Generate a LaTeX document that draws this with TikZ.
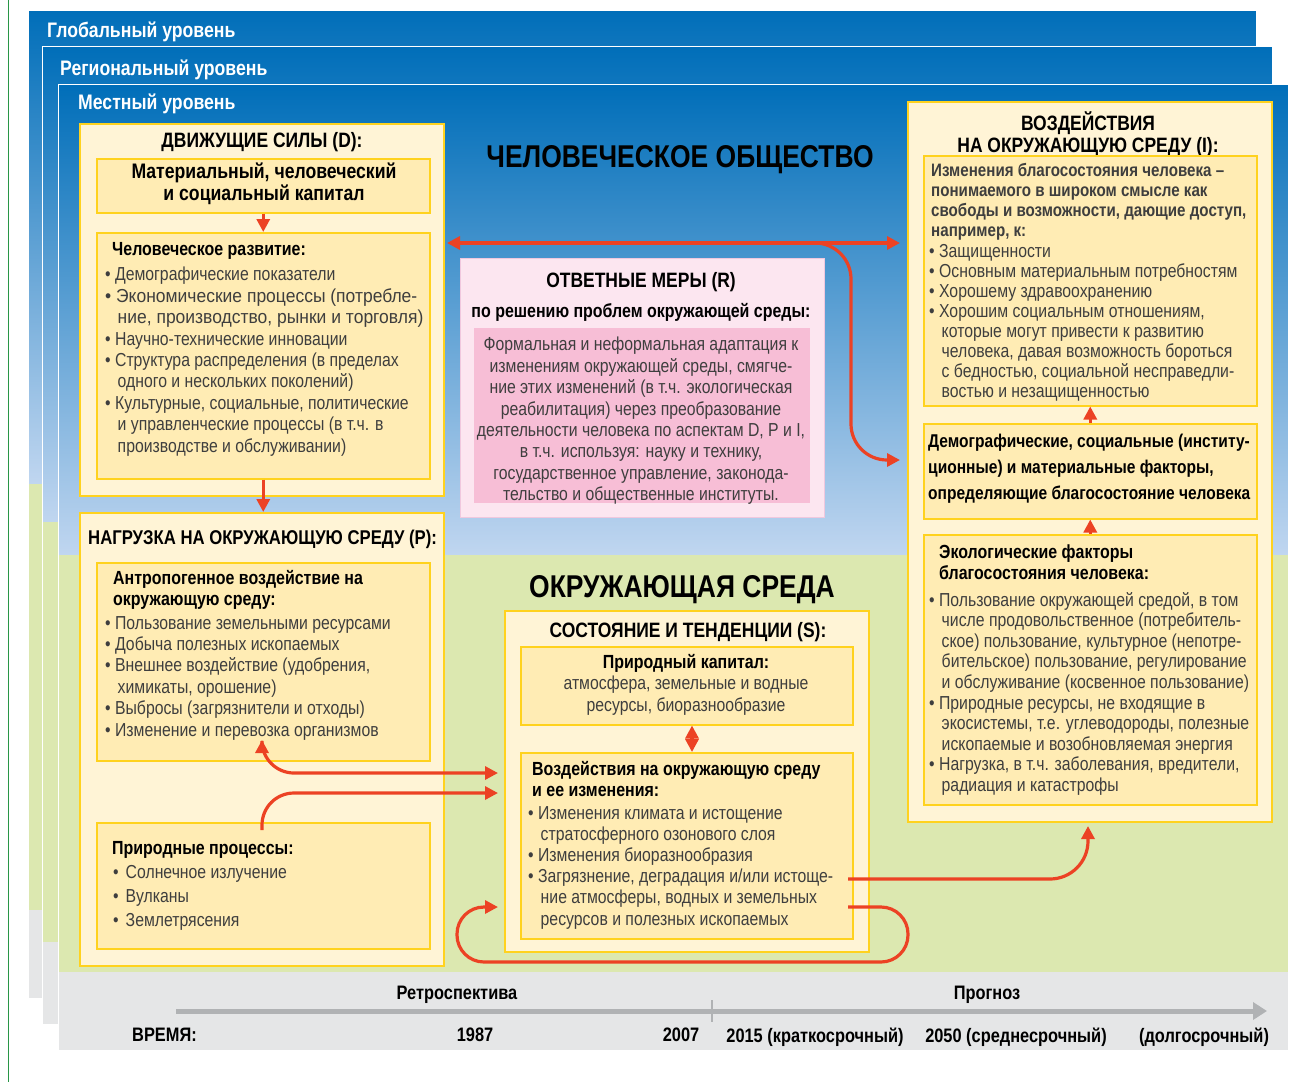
\documentclass[tikz,border=0pt]{standalone}
\usepackage{fontspec}
\usepackage{graphicx}
\setmainfont{Liberation Sans}[FakeStretch=0.84]
\usetikzlibrary{arrows.meta}
\definecolor{dblue}{RGB}{0,110,185}
\definecolor{lblue}{RGB}{192,214,240}
\definecolor{lgreen}{RGB}{220,232,176}
\definecolor{lgray}{RGB}{229,230,231}
\definecolor{cream}{RGB}{255,244,214}
\definecolor{innerc}{RGB}{255,236,180}
\definecolor{ybord}{RGB}{255,210,30}
\definecolor{pinkout}{RGB}{252,230,240}
\definecolor{pinkin}{RGB}{247,190,214}
\definecolor{pinkbord}{RGB}{240,200,222}
\definecolor{ared}{RGB}{236,66,36}
\definecolor{txtgray}{RGB}{62,62,62}
\definecolor{tlgray}{RGB}{176,178,180}
\definecolor{edgegreen}{RGB}{40,150,70}
\tikzset{
  outerbox/.style={draw=ybord, line width=1.5pt, fill=cream, anchor=north west, inner sep=0pt},
  innerbox/.style={draw=ybord, line width=1.5pt, fill=innerc, anchor=north west, inner sep=0pt},
  hd/.style={font=\fontsize{19}{22}\selectfont\bfseries, text=black, inner sep=0pt, align=left, anchor=north west},
  hdc/.style={font=\fontsize{19}{22}\selectfont\bfseries, text=black, inner sep=0pt, align=center, anchor=north},
  capt/.style={font=\fontsize{20.8}{22}\selectfont\bfseries, text=black, inner sep=0pt, align=center, anchor=north},
  bd/.style={font=\fontsize{18.8}{21.4}\selectfont, text=txtgray, inner sep=0pt, align=left, anchor=north west},
  bdc/.style={font=\fontsize{18.8}{21.4}\selectfont, text=txtgray, inner sep=0pt, align=center, anchor=north},
  bigt/.style={font=\fontsize{31.5}{36}\selectfont\bfseries, text=black, inner sep=0pt, anchor=north},
  lvl/.style={font=\fontsize{21}{24}\selectfont\bfseries, text=white, inner sep=0pt, anchor=north west},
  tl/.style={font=\fontsize{19.5}{22}\selectfont\bfseries, text=black, inner sep=0pt, anchor=north},
  redarrow/.style={draw=ared, line width=3.2pt, -{Triangle[length=13pt,width=13pt]}},
  dblarrow/.style={draw=ared, line width=3.2pt, {Triangle[length=13pt,width=13pt]}-{Triangle[length=13pt,width=13pt]}},
}
\newcommand{\ci}{\hspace*{12.5pt}}
\begin{document}
\begin{tikzpicture}[x=1pt,y=-1pt]
\useasboundingbox (0,0) rectangle (1311,1082);
\fill[white] (0,0) rectangle (1311,1082);
\draw[edgegreen, line width=1pt] (8,0) -- (8,1082);
% global panel
\shade[top color=dblue, bottom color=lblue] (28,10) rectangle (1256,484);
\fill[lgreen] (28,484) rectangle (1256,910);
\fill[lgray] (28,910) rectangle (1256,998);
\draw[white, line width=1pt] (28,10) rectangle (1256,998);
\node[lvl] (lglob) at (47,22) {Глобальный уровень};
% regional panel
\shade[top color=dblue, bottom color=lblue] (42,46) rectangle (1272,522);
\fill[lgreen] (42,522) rectangle (1272,942);
\fill[lgray] (42,942) rectangle (1272,1024);
\draw[white, line width=1pt] (42,46) rectangle (1272,1024);
\node[lvl] (lreg) at (60,60) {Региональный уровень};
% local panel
\shade[top color=dblue, bottom color=lblue] (58,84) rectangle (1288,555);
\fill[lgreen] (58,555) rectangle (1288,972);
\fill[lgray] (58,972) rectangle (1288,1050);
\draw[white, line width=1pt] (58,84) rectangle (1288,1050);
\node[lvl] (lloc) at (78,94) {Местный уровень};

% big titles
\node[bigt] (tsoc) at (680,145.3) {ЧЕЛОВЕЧЕСКОЕ ОБЩЕСТВО};
\node[bigt] (tenv) at (682,575.3) {ОКРУЖАЮЩАЯ СРЕДА};

% D box
\node[outerbox, minimum width=364pt, minimum height=372pt] (d) at (79,123) {};
\node[capt] (dt) at (262,132.3) {ДВИЖУЩИЕ СИЛЫ (D):};
\node[innerbox, minimum width=333pt, minimum height=54pt] (d1) at (96,158) {};
\node[hdc, font=\fontsize{21}{22}\selectfont\bfseries] (d1t) at (264,162.2) {Материальный, человеческий\\и социальный капитал};
\node[innerbox, minimum width=333pt, minimum height=246pt] (d2) at (96,232) {};
\node[hd] (d2h) at (112,242) {Человеческое развитие:};
\node[bd] (d2b) at (105,267) {• Демографические показатели\\
\scalebox{1.107}[1]{• Экономические процессы (потребле-}\\
\ci\scalebox{1.107}[1]{ние, производство, рынки и торговля)}\\
• Научно-технические инновации\\
• Структура распределения (в пределах\\
\ci одного и нескольких поколений)\\
• Культурные, социальные, политические\\
\ci и управленческие процессы (в т.ч. в\\
\ci производстве и обслуживании)};

% P box
\node[outerbox, minimum width=364pt, minimum height=453pt] (p) at (79,512) {};
\node[capt, anchor=north west, font=\fontsize{19.9}{22}\selectfont\bfseries] (pt) at (88,529.6) {НАГРУЗКА НА ОКРУЖАЮЩУЮ СРЕДУ (P):};
\node[innerbox, minimum width=333pt, minimum height=198pt] (pa) at (96,562) {};
\node[hd, font=\fontsize{19}{21}\selectfont\bfseries] (pah) at (113,570) {Антропогенное воздействие на\\окружающую среду:};
\node[bd] (pab) at (105,616) {• Пользование земельными ресурсами\\
• Добыча полезных ископаемых\\
• Внешнее воздействие (удобрения,\\
\ci химикаты, орошение)\\
• Выбросы (загрязнители и отходы)\\
• Изменение и перевозка организмов};
\node[innerbox, minimum width=333pt, minimum height=126pt] (pb) at (96,822) {};
\node[hd] (pbh) at (112,841) {Природные процессы:};
\node[bd, font=\fontsize{18.8}{24}\selectfont] (pbb) at (113,865) {•\hspace{7pt}Солнечное излучение\\
•\hspace{7pt}Вулканы\\
•\hspace{7pt}Землетрясения};

% R box
\node[draw=pinkbord, line width=1.2pt, fill=pinkout, anchor=north west, inner sep=0pt, minimum width=364pt, minimum height=259pt] (r) at (460,258) {};
\node[capt] (rt) at (641,272.3) {ОТВЕТНЫЕ МЕРЫ (R)};
\node[hdc] (rt2) at (641,303) {по решению проблем окружающей среды:};
\node[fill=pinkin, anchor=north west, inner sep=0pt, minimum width=336pt, minimum height=175pt] (rin) at (474,328) {};
\node[bdc] (rb) at (641,337) {Формальная и неформальная адаптация к\\
изменениям окружающей среды, смягче-\\
ние этих изменений (в т.ч. экологическая\\
реабилитация) через преобразование\\
деятельности человека по аспектам D, P и I,\\
в т.ч. используя: науку и технику,\\
государственное управление, законода-\\
тельство и общественные институты.};

% S box
\node[outerbox, minimum width=364pt, minimum height=341pt] (s) at (504,610) {};
\node[capt] (st) at (688,622.3) {СОСТОЯНИЕ И ТЕНДЕНЦИИ (S):};
\node[innerbox, minimum width=332pt, minimum height=78pt] (nc) at (520,646) {};
\node[hdc] (nch) at (686,654) {Природный капитал:};
\node[bdc] (ncb) at (686,676) {атмосфера, земельные и водные\\ресурсы, биоразнообразие};
\node[innerbox, minimum width=332pt, minimum height=186pt] (e) at (520,752) {};
\node[hd, font=\fontsize{19}{21}\selectfont\bfseries] (eh) at (532,761) {Воздействия на окружающую среду\\и ее изменения:};
\node[bd, font=\fontsize{18.8}{21.2}\selectfont] (eb) at (528,806) {• Изменения климата и истощение\\
\ci стратосферного озонового слоя\\
• Изменения биоразнообразия\\
• Загрязнение, деградация и/или истоще-\\
\ci ние атмосферы, водных и земельных\\
\ci ресурсов и полезных ископаемых};

% I box
\node[outerbox, minimum width=364pt, minimum height=720pt] (i) at (907,101) {};
\node[capt] (it) at (1088,111.3) {ВОЗДЕЙСТВИЯ\\НА ОКРУЖАЮЩУЮ СРЕДУ (I):};
\node[innerbox, minimum width=333pt, minimum height=250pt] (i1) at (923,155) {};
\node[hd, font=\fontsize{18}{20}\selectfont\bfseries, text=txtgray] (i1h) at (931,163.3) {Изменения благосостояния человека –\\
понимаемого в широком смысле как\\
свободы и возможности, дающие доступ,\\
например, к:};
\node[bd, font=\fontsize{18.8}{20}\selectfont] (i1b) at (929,244) {• Защищенности\\
• Основным материальным потребностям\\
• Хорошему здравоохранению\\
• Хорошим социальным отношениям,\\
\ci которые могут привести к развитию\\
\ci человека, давая возможность бороться\\
\ci с бедностью, социальной несправедли-\\
\ci востью и незащищенностью};
\node[innerbox, minimum width=333pt, minimum height=95pt] (i2) at (923,423) {};
\node[hd, font=\fontsize{18.5}{26}\selectfont\bfseries] (i2t) at (928,434.2) {Демографические, социальные (институ-\\
ционные) и материальные факторы,\\
определяющие благосостояние человека};
\node[innerbox, minimum width=333pt, minimum height=270pt] (i3) at (923,534) {};
\node[hd, font=\fontsize{19}{21}\selectfont\bfseries] (i3h) at (939,545) {Экологические факторы\\благосостояния человека:};
\node[bd, font=\fontsize{18.8}{20.6}\selectfont] (i3b) at (929,592) {• Пользование окружающей средой, в том\\
\ci числе продовольственное (потребитель-\\
\ci ское) пользование, культурное (непотре-\\
\ci бительское) пользование, регулирование\\
\ci и обслуживание (косвенное пользование)\\
• Природные ресурсы, не входящие в\\
\ci экосистемы, т.е. углеводороды, полезные\\
\ci ископаемые и возобновляемая энергия\\
• Нагрузка, в т.ч. заболевания, вредители,\\
\ci радиация и катастрофы};

% timeline
\coordinate (tls) at (176,1011);
\coordinate (tle) at (1267,1011);
\coordinate (tkt) at (712,1000);
\coordinate (tkb) at (712,1022);
\draw[tlgray, line width=5pt, -{Triangle[length=14pt,width=17pt]}] (tls) -- (tle);
\draw[tlgray, line width=2pt] (tkt) -- (tkb);
\node[tl] (tr) at (457,985.8) {Ретроспектива};
\node[tl] (tp) at (987,985.8) {Прогноз};
\node[tl, anchor=north west] (tv) at (132,1027.8) {ВРЕМЯ:};
\node[tl] (t1) at (475,1027.8) {1987};
\node[tl] (t2) at (681,1027.8) {2007};
\node[tl] (t3) at (815,1027.8) {2015 (краткосрочный)};
\node[tl] (t4) at (1016,1027.8) {2050 (среднесрочный)};
\node[tl] (t5) at (1204,1027.8) {(долгосрочный)};

% connectors
\draw[redarrow] (d1.south) -- (d2.north);
\draw[redarrow] (d2.south) -- (d2.south |- p.north);
\coordinate (hL) at (447,243);
\coordinate (hR) at (900,243);
\coordinate (hB) at (800,243);
\coordinate (hV) at (851,243);
\coordinate (hVb) at (851,460);
\coordinate (hE) at (900,460);
\draw[dblarrow] (hL) -- (hR);
\draw[redarrow, rounded corners=36pt] (hB) -- (hV) -- (hVb) -- (hE);
\draw[redarrow] (i2.north) -- (i1.south);
\draw[redarrow] (i3.north) -- (i2.south);
\coordinate (ncx) at (692,0);
\draw[dblarrow] (nc.south -| ncx) -- (e.north -| ncx);
\coordinate (aT) at (262,740);
\coordinate (aC) at (262,773);
\coordinate (aE) at (498,773);
\draw[dblarrow, rounded corners=32pt] (aT) -- (aC) -- (aE);
\coordinate (bS) at (262,830);
\coordinate (bC) at (262,793);
\coordinate (bE) at (498,793);
\draw[redarrow, rounded corners=32pt] (bS) -- (bC) -- (bE);
\coordinate (lS) at (848,907);
\coordinate (lR1) at (908,907);
\coordinate (lR2) at (908,962);
\coordinate (lL1) at (457,962);
\coordinate (lL2) at (457,907);
\coordinate (lE) at (498,907);
\draw[redarrow, rounded corners=27pt] (lS) -- (lR1) -- (lR2) -- (lL1) -- (lL2) -- (lE);
\coordinate (kS) at (848,879);
\coordinate (kC) at (1088,879);
\coordinate (kE) at (1088,826);
\draw[redarrow, rounded corners=38pt] (kS) -- (kC) -- (kE);
\end{tikzpicture}
\end{document}
